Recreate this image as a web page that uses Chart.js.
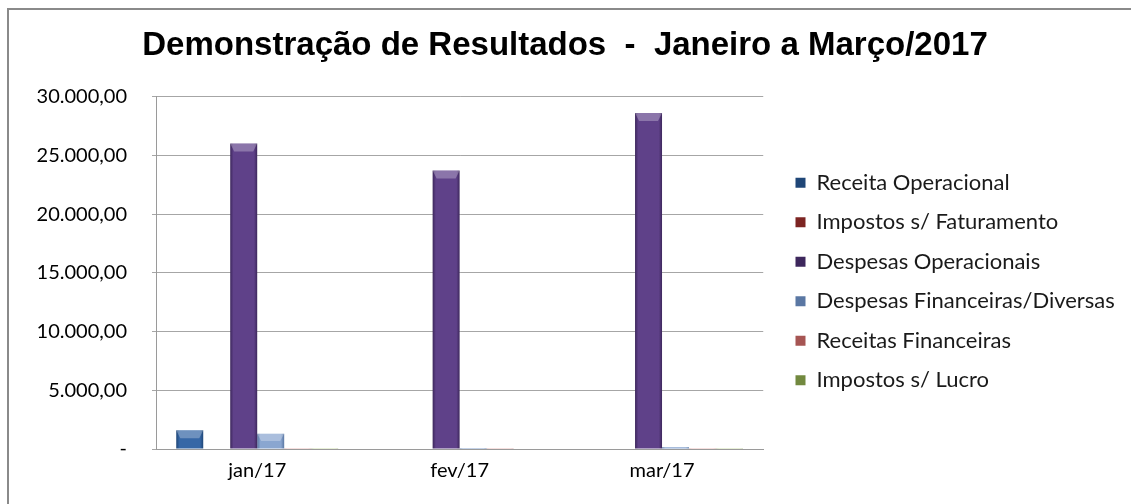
<!DOCTYPE html>
<html>
<head>
<meta charset="utf-8">
<script src="https://cdn.jsdelivr.net/npm/chart.js@4"></script>
<style>
  html, body { margin: 0; padding: 0; background: #fff; overflow: hidden; }
  #frame { position: absolute; left: 7px; top: 8px; width: 1200px; height: 600px; border: 2px solid #8a8a8a; }
  #wrap { position: absolute; left: 0; top: 0; width: 1131px; height: 504px; }
</style>
</head>
<body>
<div id="frame"></div>
<div id="wrap"><canvas id="demo" width="1131" height="504"></canvas></div>
<script>
// categorias e valores
var meses = ['jan/17', 'fev/17', 'mar/17'];
var receitaOperacional = [1600, 0, 0];
var impostosFaturamento = [0, 0, 0];
var despesasOperacionais = [26000, 23700, 28600];
var despesasFinanceiras = [1300, 80, 150];
var receitasFinanceiras = [60, 60, 60];
var impostosLucro = [60, 0, 60];
var yTicks = [0, 5000, 10000, 15000, 20000, 25000, 30000];

// cores base / borda escura
var cores = [
    ['#3667a6', '#1f4677'],
    ['#b43c38', '#7c2422'],
    ['#5f4189', '#3d275c'],
    ['#8aa6d0', '#5a77a3'],
    ['#d9807d', '#a65553'],
    ['#a3c162', '#72893f']
];

function formatBR(v) {
    if (v === 0) return '-';
    var s = Math.round(v).toString();
    s = s.replace(/\B(?=(\d{3})+(?!\d))/g, '.');
    return s + ',00';
}

function barFill(i) {
    return function (ctx) {
        if (ctx.dataIndex === undefined || !ctx.chart.chartArea) return cores[i][0];
        var xs = ctx.chart.scales.x;
        var catW = xs.width / meses.length;
        var barW = catW * 0.8 / 6;
        var cx = xs.getPixelForValue(ctx.dataIndex) + (i - 2.5) * barW;
        var g = ctx.chart.ctx.createLinearGradient(cx - barW / 2, 0, cx + barW / 2, 0);
        g.addColorStop(0, cores[i][1]);
        g.addColorStop(0.12, cores[i][0]);
        g.addColorStop(0.88, cores[i][0]);
        g.addColorStop(1, cores[i][1]);
        return g;
    };
}

var nomes = ['Receita Operacional', 'Impostos s/ Faturamento', 'Despesas Operacionais',
    'Despesas Financeiras/Diversas', 'Receitas Financeiras', 'Impostos s/ Lucro'];
var series = [receitaOperacional, impostosFaturamento, despesasOperacionais,
    despesasFinanceiras, receitasFinanceiras, impostosLucro];

var datasets = [];
for (let i = 0; i < series.length; i++) {
    datasets.push({
        label: nomes[i],
        data: series[i],
        backgroundColor: barFill(i),
        borderWidth: 0,
        categoryPercentage: 0.8,
        barPercentage: 1.0
    });
}

// move a legenda para a posicao do original
var legendShift = {
    id: 'legendShift',
    beforeDraw: function (chart) {
        var lg = chart.legend;
        var dx = 778 - lg.left;
        lg.left += dx; lg.right += dx;
        var dy = 30;
        lg.top += dy; lg.bottom += dy;
    }
};

// brilho no topo das barras (efeito bisel)
var bevel = {
    id: 'bevel',
    afterDatasetsDraw: function (chart) {
        var c = chart.ctx;
        chart.data.datasets.forEach(function (ds, i) {
            var meta = chart.getDatasetMeta(i);
            meta.data.forEach(function (bar) {
                var h = bar.base - bar.y;
                if (h < 6) return;
                var w = bar.width;
                var x0 = bar.x - w / 2, x1 = bar.x + w / 2;
                var d = Math.min(8, h / 2);
                c.save();
                c.fillStyle = 'rgba(255,255,255,0.28)';
                c.beginPath();
                c.moveTo(x0, bar.y);
                c.lineTo(x1, bar.y);
                c.lineTo(x1 - 4, bar.y + d);
                c.lineTo(x0 + 4, bar.y + d);
                c.closePath();
                c.fill();
                c.restore();
            });
        });
    }
};

var ctx = document.getElementById('demo').getContext('2d');
window.myBar = new Chart(ctx, {
    type: 'bar',
    data: { labels: meses, datasets: datasets },
    plugins: [legendShift, bevel],
    options: {
        responsive: false,
        animation: false,
        devicePixelRatio: 1,
        layout: { padding: { top: 10, right: 21, bottom: 11, left: 20 } },
        plugins: {
            title: {
                display: true,
                text: 'Demonstração de Resultados  -  Janeiro a Março/2017',
                color: '#000',
                font: { family: 'Liberation Sans', size: 33, weight: 'bold' },
                padding: { top: 16, bottom: 31 }
            },
            legend: {
                position: 'right',
                align: 'center',
                maxWidth: 420,
                labels: {
                    color: '#1a1a1a',
                    font: { family: 'Lato', size: 22 },
                    boxWidth: 10,
                    boxHeight: 10,
                    padding: 17.5
                }
            },
            tooltip: { enabled: false }
        },
        scales: {
            x: {
                grid: { display: false, drawTicks: false },
                border: { color: '#9a9a9a', width: 1 },
                ticks: { color: '#000', font: { family: 'Lato', size: 20 }, padding: 10 }
            },
            y: {
                min: 0,
                max: 30000,
                afterBuildTicks: function (s) { s.ticks = yTicks.map(function (v) { return { value: v }; }); },
                afterFit: function (s) { s.width = 136; },
                grid: { color: '#a6a6a6', lineWidth: 1, tickLength: 4 },
                border: { color: '#9a9a9a', width: 1 },
                ticks: {
                    color: '#000',
                    font: { family: 'Lato', size: 20 },
                    padding: 25,
                    callback: function (v) { return formatBR(v); }
                }
            }
        }
    }
});
</script>
</body>
</html>
